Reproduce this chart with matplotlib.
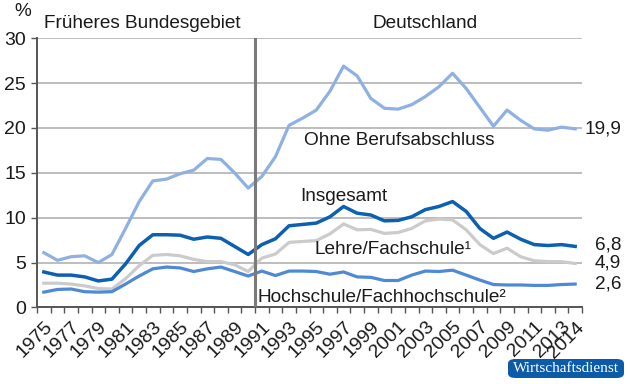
import numpy as np
import matplotlib
matplotlib.use("Agg")
import matplotlib.pyplot as plt
from matplotlib.patches import FancyBboxPatch

# ====================== DATA ======================
years = list(range(1975, 2015))

ohne = [6.1, 5.25, 5.65, 5.75, 5.0, 5.9, 8.8, 11.8, 14.1, 14.3,
        14.9, 15.3, 16.6, 16.5, 15.0, 13.3, 14.6, 16.8, 20.3, 21.1,
        22.0, 24.1, 26.9, 25.8, 23.3, 22.2, 22.1, 22.6, 23.5, 24.6,
        26.1, 24.4, 22.3, 20.2, 22.0, 20.85, 19.9, 19.75, 20.1, 19.9]

insgesamt = [3.95, 3.6, 3.6, 3.4, 2.95, 3.15, 4.85, 6.9, 8.1, 8.1,
             8.05, 7.6, 7.85, 7.7, 6.8, 5.9, 7.0, 7.65, 9.1, 9.25,
             9.4, 10.1, 11.25, 10.5, 10.3, 9.65, 9.7, 10.1, 10.9, 11.25,
             11.8, 10.7, 8.8, 7.7, 8.4, 7.6, 7.0, 6.9, 7.0, 6.8]

lehre = [2.7, 2.7, 2.6, 2.4, 2.1, 2.05, 3.2, 4.65, 5.8, 5.9,
         5.75, 5.35, 5.1, 5.1, 4.75, 4.0, 5.5, 5.95, 7.25, 7.35,
         7.45, 8.2, 9.3, 8.65, 8.7, 8.25, 8.35, 8.8, 9.65, 9.85,
         9.75, 8.65, 7.0, 6.0, 6.6, 5.65, 5.2, 5.1, 5.1, 4.9]

hochschule = [1.7, 2.0, 2.05, 1.75, 1.7, 1.75, 2.6, 3.5, 4.3, 4.5,
              4.4, 4.0, 4.3, 4.5, 4.0, 3.5, 4.05, 3.55, 4.05, 4.05,
              4.0, 3.7, 3.95, 3.4, 3.35, 3.0, 3.0, 3.6, 4.05, 4.0,
              4.15, 3.6, 3.05, 2.55, 2.5, 2.5, 2.45, 2.45, 2.55, 2.6]

tick_years = list(range(1975, 2014, 2)) + [2014]
end_labels = ["19,9", "6,8", "4,9", "2,6"]

# ====================== PLOT ======================
plt.rcParams['font.family'] = ['Liberation Sans', 'DejaVu Sans']

fig = plt.figure(figsize=(6.3, 3.84), dpi=100)
ax = fig.add_axes([37 / 630, 1 - 307.4 / 384, 545 / 630, 269.1 / 384])

x = np.arange(len(years))
text_col = '#1a1a1a'
fs = 13.7

ax.set_xlim(-0.5, len(years) - 0.5)
ax.set_ylim(0, 30)
ax.set_yticks(range(0, 31, 5))
ax.yaxis.grid(True, color='#ababab', lw=1.1)
ax.set_axisbelow(True)

ax.plot(x, lehre, color='#cbcbcb', lw=2.3, solid_joinstyle='round')
ax.plot(x, hochschule, color='#4f89d4', lw=2.3, solid_joinstyle='round')
ax.plot(x, ohne, color='#8fb0e2', lw=2.3, solid_joinstyle='round')
ax.plot(x, insgesamt, color='#0b60b2', lw=2.5, solid_joinstyle='round')

# boundary 1990/1991
ax.axvline(years.index(1991) - 0.5, color='#7a7a7a', lw=2.2, zorder=5)

for s in ['top', 'right']:
    ax.spines[s].set_visible(False)
ax.spines['left'].set_color('#555555')
ax.spines['bottom'].set_color('#555555')
ax.spines['left'].set_linewidth(1.4)
ax.spines['bottom'].set_linewidth(1.4)

ax.set_xticks([years.index(y) for y in tick_years])
ax.set_xticklabels([str(y) for y in tick_years], rotation=45, ha='right',
                   va='top', rotation_mode='anchor', fontsize=14, color=text_col)
ax.set_xticks(np.arange(-0.5, len(years)), minor=True)
ax.tick_params(axis='x', which='major', length=0, pad=8)
ax.tick_params(axis='x', which='minor', length=4, width=1, color='#555555')
ax.tick_params(axis='y', length=4, width=1, color='#555555', labelsize=14,
               labelcolor=text_col, pad=4)

# headings
fig.text(14 / 630, 1 - 12 / 384, '%', fontsize=fs, color=text_col, ha='left', va='center')
fig.text(44 / 630, 1 - 23 / 384, 'Früheres Bundesgebiet', fontsize=fs, color=text_col,
         ha='left', va='center')
fig.text(425 / 630, 1 - 23 / 384, 'Deutschland', fontsize=fs, color=text_col,
         ha='center', va='center')

# series labels
ax.text(19.1, 18.6, 'Ohne Berufsabschluss', fontsize=fs, color=text_col, ha='left', va='center')
ax.text(18.85, 12.4, 'Insgesamt', fontsize=fs, color=text_col, ha='left', va='center')
ax.text(19.85, 6.4, 'Lehre/Fachschule¹', fontsize=fs, color=text_col, ha='left', va='center')
ax.text(15.65, 1.15, 'Hochschule/Fachhochschule²', fontsize=fs, color=text_col,
        ha='left', va='center')

# end values
label_y = [19.9, 7.0, 4.9, 2.6]
for lab, yy in zip(end_labels, label_y):
    fig.text(621 / 630, ax.transData.transform((0, yy))[1] / 384, lab,
             fontsize=fs, color=text_col, ha='right', va='center')

# source badge
badge = FancyBboxPatch((508 / 630, 1 - 378 / 384), 116 / 630, 19 / 384,
                       boxstyle='round,pad=0,rounding_size=0.012',
                       transform=fig.transFigure, facecolor='#0c5ba8',
                       edgecolor='none')
fig.patches.append(badge)
fig.text(566 / 630, 1 - 368.5 / 384, 'Wirtschaftsdienst', fontsize=11,
         family='Liberation Serif', color='white', ha='center', va='center')

fig.savefig('out.png', dpi=100)
